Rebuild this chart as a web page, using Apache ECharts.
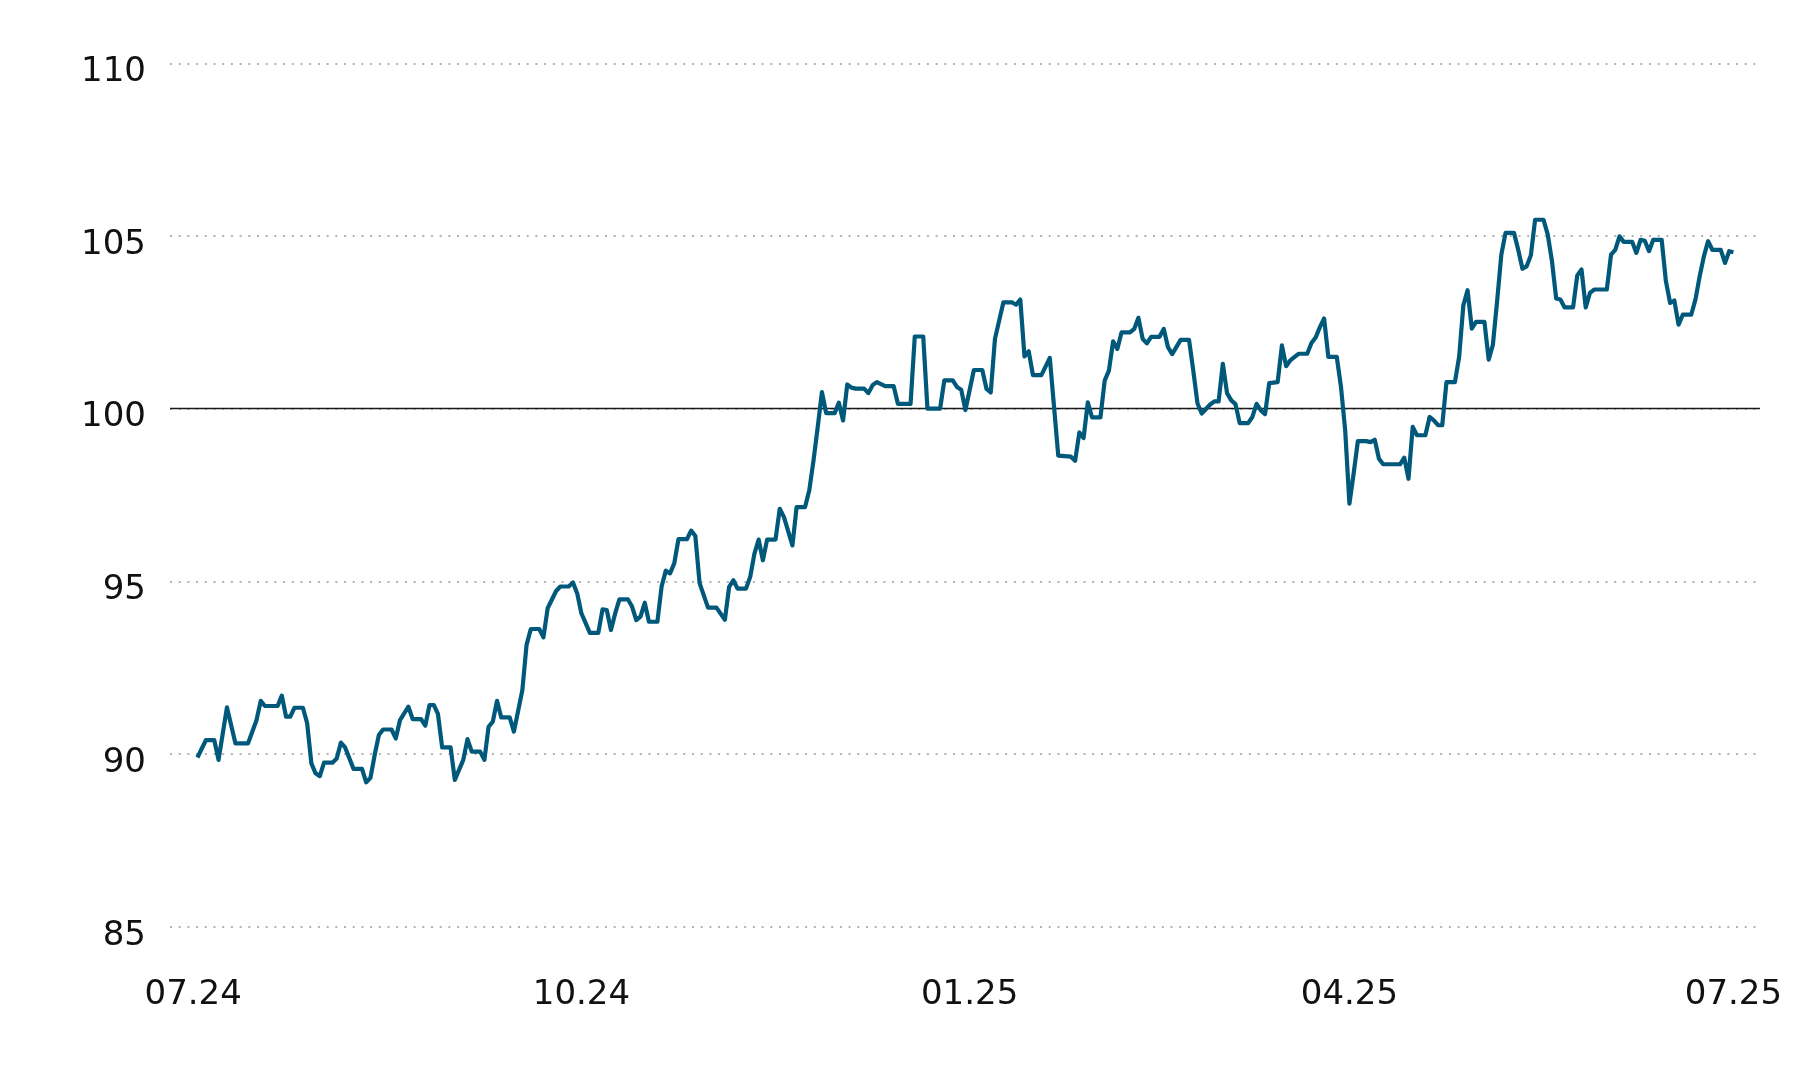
<!DOCTYPE html>
<html>
<head>
<meta charset="utf-8">
<script src="https://cdn.jsdelivr.net/npm/echarts@6/dist/echarts.min.js"></script>
<style>
  html, body { margin: 0; padding: 0; background: #ffffff; }
  #chart { width: 1800px; height: 1080px; }
</style>
</head>
<body>
<div id="chart"></div>
<script>
// ---- data ----
const dates = [
  '2024-07-02','2024-07-04','2024-07-06','2024-07-07','2024-07-09','2024-07-11','2024-07-14','2024-07-16','2024-07-17','2024-07-18',
  '2024-07-21','2024-07-22','2024-07-23','2024-07-24','2024-07-25','2024-07-27','2024-07-28','2024-07-29','2024-07-30','2024-07-31',
  '2024-08-01','2024-08-03','2024-08-04','2024-08-05','2024-08-06','2024-08-08','2024-08-10','2024-08-11','2024-08-12','2024-08-13',
  '2024-08-14','2024-08-15','2024-08-17','2024-08-18','2024-08-19','2024-08-21','2024-08-22','2024-08-24','2024-08-25','2024-08-26',
  '2024-08-27','2024-08-28','2024-08-29','2024-08-31','2024-09-01','2024-09-03','2024-09-04','2024-09-05','2024-09-07','2024-09-08',
  '2024-09-09','2024-09-10','2024-09-11','2024-09-12','2024-09-14','2024-09-15','2024-09-17','2024-09-18','2024-09-19','2024-09-21',
  '2024-09-22','2024-09-23','2024-09-25','2024-09-26','2024-09-28','2024-09-29','2024-09-30','2024-10-01','2024-10-03','2024-10-05',
  '2024-10-06','2024-10-07','2024-10-08','2024-10-09','2024-10-10','2024-10-12','2024-10-13','2024-10-14','2024-10-15','2024-10-16',
  '2024-10-17','2024-10-19','2024-10-20','2024-10-21','2024-10-22','2024-10-23','2024-10-24','2024-10-26','2024-10-27','2024-10-28',
  '2024-10-29','2024-10-31','2024-11-02','2024-11-04','2024-11-05','2024-11-06','2024-11-07','2024-11-09','2024-11-10','2024-11-11',
  '2024-11-12','2024-11-13','2024-11-14','2024-11-16','2024-11-17','2024-11-18','2024-11-20','2024-11-21','2024-11-23','2024-11-24',
  '2024-11-25','2024-11-26','2024-11-27','2024-11-28','2024-11-30','2024-12-01','2024-12-02','2024-12-03','2024-12-04','2024-12-05',
  '2024-12-07','2024-12-08','2024-12-09','2024-12-10','2024-12-12','2024-12-14','2024-12-15','2024-12-18','2024-12-19','2024-12-21',
  '2024-12-22','2024-12-25','2024-12-26','2024-12-28','2024-12-29','2024-12-30','2024-12-31','2025-01-02','2025-01-04','2025-01-05',
  '2025-01-06','2025-01-07','2025-01-09','2025-01-11','2025-01-12','2025-01-13','2025-01-14','2025-01-15','2025-01-16','2025-01-18',
  '2025-01-20','2025-01-22','2025-01-25','2025-01-26','2025-01-27','2025-01-28','2025-01-29','2025-01-30','2025-02-01','2025-02-02',
  '2025-02-03','2025-02-04','2025-02-05','2025-02-06','2025-02-08','2025-02-09','2025-02-10','2025-02-11','2025-02-12','2025-02-13',
  '2025-02-15','2025-02-16','2025-02-17','2025-02-18','2025-02-20','2025-02-22','2025-02-23','2025-02-24','2025-02-25','2025-02-27',
  '2025-02-28','2025-03-01','2025-03-02','2025-03-03','2025-03-04','2025-03-05','2025-03-06','2025-03-08','2025-03-09','2025-03-10',
  '2025-03-11','2025-03-12','2025-03-13','2025-03-15','2025-03-16','2025-03-17','2025-03-18','2025-03-19','2025-03-20','2025-03-22',
  '2025-03-23','2025-03-24','2025-03-25','2025-03-26','2025-03-27','2025-03-29','2025-03-30','2025-03-31','2025-04-01','2025-04-02',
  '2025-04-03','2025-04-05','2025-04-06','2025-04-07','2025-04-08','2025-04-09','2025-04-13','2025-04-14','2025-04-15','2025-04-16',
  '2025-04-17','2025-04-19','2025-04-20','2025-04-21','2025-04-22','2025-04-23','2025-04-24','2025-04-26','2025-04-27','2025-04-28',
  '2025-04-29','2025-04-30','2025-05-01','2025-05-03','2025-05-04','2025-05-05','2025-05-06','2025-05-07','2025-05-08','2025-05-10',
  '2025-05-11','2025-05-12','2025-05-13','2025-05-14','2025-05-15','2025-05-17','2025-05-18','2025-05-19','2025-05-20','2025-05-21',
  '2025-05-22','2025-05-24','2025-05-25','2025-05-26','2025-05-27','2025-05-28','2025-05-29','2025-06-01','2025-06-02','2025-06-03',
  '2025-06-04','2025-06-05','2025-06-07','2025-06-08','2025-06-09','2025-06-10','2025-06-11','2025-06-12','2025-06-14','2025-06-15',
  '2025-06-16','2025-06-17','2025-06-18','2025-06-19','2025-06-21','2025-06-22','2025-06-23','2025-06-24','2025-06-25','2025-06-26',
  '2025-06-28','2025-06-29','2025-06-30','2025-07-01'
];
const values = [
  89.90, 90.40, 90.40, 89.83, 91.35, 90.31, 90.31, 90.98, 91.54, 91.39,
  91.39, 91.69, 91.08, 91.08, 91.34, 91.34, 90.89, 89.73, 89.44, 89.36,
  89.75, 89.75, 89.87, 90.33, 90.19, 89.57, 89.57, 89.18, 89.31, 89.97,
  90.55, 90.71, 90.71, 90.45, 90.98, 91.37, 91.01, 91.01, 90.82, 91.42,
  91.42, 91.16, 90.19, 90.19, 89.25, 89.83, 90.43, 90.07, 90.07, 89.83,
  90.79, 90.94, 91.54, 91.06, 91.06, 90.65, 91.85, 93.16, 93.62, 93.62,
  93.38, 94.22, 94.72, 94.85, 94.85, 94.97, 94.65, 94.07, 93.51, 93.51,
  94.19, 94.17, 93.59, 94.07, 94.48, 94.48, 94.27, 93.88, 93.98, 94.38,
  93.83, 93.83, 94.85, 95.31, 95.23, 95.52, 96.22, 96.22, 96.47, 96.31,
  94.95, 94.24, 94.24, 93.89, 94.84, 95.03, 94.79, 94.79, 95.13, 95.80,
  96.21, 95.61, 96.21, 96.21, 97.10, 96.86, 96.04, 97.15, 97.15, 97.64,
  98.50, 99.47, 100.48, 99.87, 99.87, 100.17, 99.66, 100.70, 100.61, 100.58,
  100.58, 100.45, 100.68, 100.77, 100.65, 100.65, 100.14, 100.14, 102.09, 102.09,
  100.00, 100.00, 100.82, 100.82, 100.63, 100.55, 99.96, 101.12, 101.12, 100.57,
  100.47, 102.02, 103.08, 103.08, 103.01, 103.16, 101.51, 101.66, 100.97, 100.97,
  101.47, 98.64, 98.61, 98.49, 99.31, 99.15, 100.18, 99.75, 99.75, 100.81,
  101.10, 101.95, 101.73, 102.21, 102.21, 102.31, 102.63, 102.02, 101.89, 102.08,
  102.08, 102.31, 101.78, 101.58, 101.99, 101.99, 101.10, 100.15, 99.86, 100.12,
  100.21, 100.21, 101.30, 100.45, 100.24, 100.13, 99.58, 99.58, 99.76, 100.14,
  99.95, 99.84, 100.74, 100.77, 101.83, 101.23, 101.40, 101.50, 101.59, 101.59,
  101.90, 102.06, 102.36, 102.61, 101.50, 101.50, 100.63, 99.37, 97.25, 98.12,
  99.06, 99.06, 99.03, 99.10, 98.55, 98.39, 98.39, 98.58, 97.97, 99.47,
  99.23, 99.23, 99.76, 99.66, 99.52, 99.52, 100.77, 100.77, 101.50, 102.99,
  103.43, 102.32, 102.51, 102.51, 101.42, 101.85, 103.11, 104.46, 105.09, 105.09,
  104.60, 104.05, 104.12, 104.44, 105.47, 105.47, 105.04, 104.27, 103.19, 103.16,
  102.93, 102.93, 103.86, 104.03, 102.93, 103.35, 103.45, 103.45, 104.46, 104.60,
  104.99, 104.83, 104.83, 104.51, 104.89, 104.86, 104.56, 104.89, 104.89, 103.69,
  103.06, 103.13, 102.43, 102.72, 102.72, 103.16, 103.83, 104.41, 104.85, 104.60,
  104.60, 104.22, 104.56, 104.53
];
const xTickDates = ['2024-07-01', '2024-10-01', '2025-01-01', '2025-04-01', '2025-07-01'];
const yTicks = [85, 90, 95, 100, 105, 110];
const baseline = 100;

// ---- chart ----
const chart = echarts.init(document.getElementById('chart'), null, { renderer: 'canvas' });
const toTs = s => { const p = s.split('-').map(Number); return new Date(p[0], p[1] - 1, p[2]).getTime(); };
const seriesData = dates.map((d, i) => [toTs(d), values[i]]);
const fontFam = "'DejaVu Sans', 'Liberation Sans', Arial, sans-serif";
const DAY = 86400000;

chart.setOption({
  animation: false,
  backgroundColor: '#ffffff',
  grid: { left: 170, right: 40, top: 63.3, bottom: 153.3, containLabel: false },
  xAxis: {
    type: 'value',
    min: toTs(xTickDates[0]) - 5.5 * DAY,
    max: toTs(xTickDates[xTickDates.length - 1]) + 6.3 * DAY,
    axisLine: { show: false },
    axisTick: { show: false },
    splitLine: { show: false },
    axisLabel: {
      customValues: xTickDates.map(toTs),
      formatter: v => {
        const d = new Date(v);
        const mm = String(d.getMonth() + 1).padStart(2, '0');
        const yy = String(d.getFullYear() % 100).padStart(2, '0');
        return mm + '.' + yy;
      },
      margin: 51,
      fontSize: 34,
      fontFamily: fontFam,
      color: '#111111',
      hideOverlap: false
    }
  },
  yAxis: {
    type: 'value',
    min: yTicks[0],
    max: yTicks[yTicks.length - 1],
    interval: 5,
    axisLine: { show: false },
    axisTick: { show: false },
    axisLabel: {
      margin: 24,
      fontSize: 34,
      fontFamily: fontFam,
      color: '#111111',
      verticalAlign: 'top',
      lineHeight: 18
    },
    splitLine: {
      show: true,
      lineStyle: { color: '#999999', width: 1.6, type: [2, 6.7] }
    }
  },
  series: [{
    type: 'line',
    data: seriesData,
    showSymbol: false,
    symbol: 'none',
    lineStyle: { color: '#00587a', width: 4.2, join: 'round' },
    z: 5,
    markLine: {
      silent: true,
      symbol: 'none',
      label: { show: false },
      lineStyle: { color: '#1a1a1a', width: 1.4, type: 'solid' },
      data: [{ yAxis: baseline }],
      z: 3
    }
  }]
});
</script>
</body>
</html>
